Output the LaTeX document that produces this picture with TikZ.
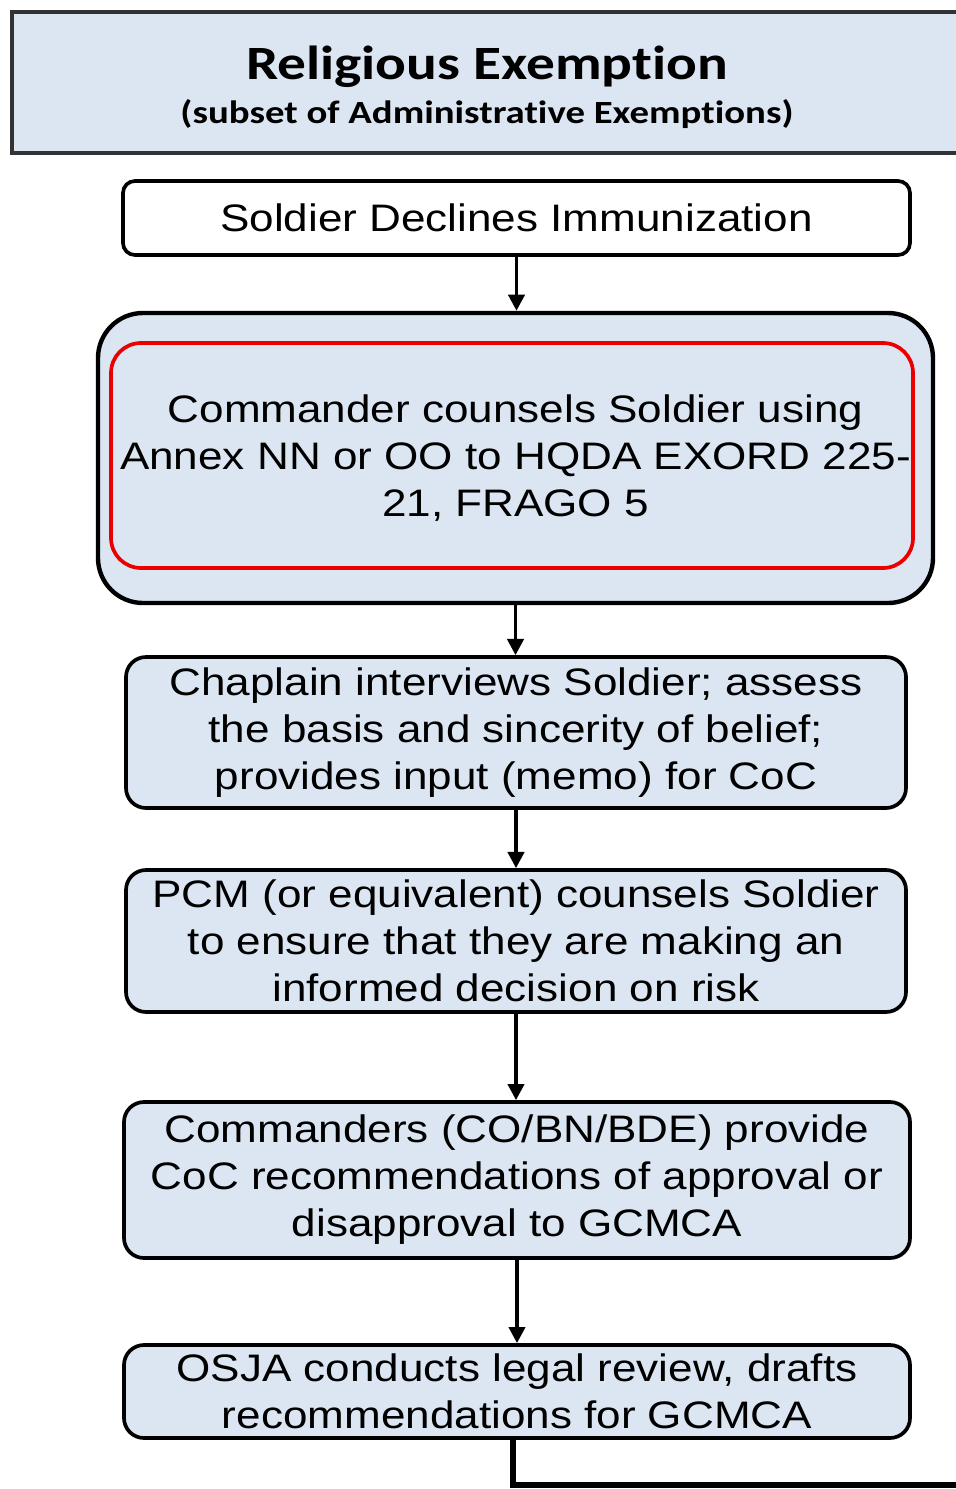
\documentclass[tikz,border=0pt]{standalone}
\usepackage{fontspec}
\setmainfont[FakeStretch=1.15]{Liberation Sans}
\newfontfamily\headfont[FakeStretch=1.2,Ligatures=NoCommon]{Carlito}
\usepackage{tikz}
\usetikzlibrary{arrows.meta}
\usetikzlibrary{positioning}

\definecolor{boxblue}{RGB}{220,230,242}
\definecolor{markred}{RGB}{235,0,0}

\begin{document}
\begin{tikzpicture}[
        header/.style={draw=black!80, line width=1pt, fill=boxblue, inner sep=0pt},
        stepbox/.style={draw, line width=1.05pt, fill=boxblue, rounded corners=0.2cm,
            inner sep=0pt, align=center, font=\fontsize{10.9}{13.37}\selectfont},
        flow/.style={line width=1.05pt, -{Triangle[width=4.6pt,length=4.6pt]}}
    ]
        \useasboundingbox (0,0) rectangle (9.56,-14.89);

        % Title banner
        \node[header, minimum width=9.5cm, minimum height=1.41cm] (head) at (4.87,-0.825) {};
        \node[anchor=base, font=\headfont\bfseries\fontsize{13.6}{15}\selectfont] (title) at (4.87,-0.79) {Religious Exemption};
        \node[anchor=base, font=\headfont\bfseries\fontsize{9.2}{11}\selectfont] (subtitle) at (4.87,-1.23) {(subset of Administrative Exemptions)};

        % Steps of the process
        \node[stepbox, fill=white, rounded corners=0.12cm, minimum width=7.87cm, minimum height=0.74cm] (declines) at (5.165,-2.18) {Soldier Declines Immunization};
        \node[stepbox, line width=1.25pt, rounded corners=0.45cm, minimum width=8.35cm, minimum height=2.9cm] (counsel) at (5.155,-4.58) {Commander counsels Soldier using\\Annex NN or OO to HQDA EXORD 225-\\21, FRAGO 5};
        \node[draw=markred, line width=1.05pt, rounded corners=0.3cm, minimum width=8.02cm, minimum height=2.25cm] (mark) at (5.12,-4.555) {};
        \node[stepbox, minimum width=7.8cm, minimum height=1.51cm] (chaplain) at (5.16,-7.325) {Chaplain interviews Soldier; assess\\the basis and sincerity of belief;\\provides input (memo) for CoC};
        \node[stepbox, minimum width=7.8cm, minimum height=1.42cm] (pcm) at (5.16,-9.41) {PCM (or equivalent) counsels Soldier\\to ensure that they are making an\\informed decision on risk};
        \node[stepbox, minimum width=7.86cm, minimum height=1.56cm] (cmdrs) at (5.17,-11.8) {Commanders (CO/BN/BDE) provide\\CoC recommendations of approval or\\disapproval to GCMCA};
        \node[stepbox, minimum width=7.86cm, minimum height=0.93cm] (osja) at (5.17,-13.915) {OSJA conducts legal review, drafts\\recommendations for GCMCA};

        % Connectors
        \draw[flow] (declines.south) -- (declines.south |- counsel.north);
        \draw[flow] (counsel.south) -- (counsel.south |- chaplain.north);
        \draw[flow] (chaplain.south) -- (chaplain.south |- pcm.north);
        \draw[flow] (pcm.south) -- (pcm.south |- cmdrs.north);
        \draw[flow] (cmdrs.south) -- (cmdrs.south |- osja.north);

        % Onward line leaving the page
        \coordinate (exit) at (9.8,-14.85);
        \draw[line width=1.5pt] ([xshift=-0.04cm]osja.south) |- (exit);
    \end{tikzpicture}
\end{document}
